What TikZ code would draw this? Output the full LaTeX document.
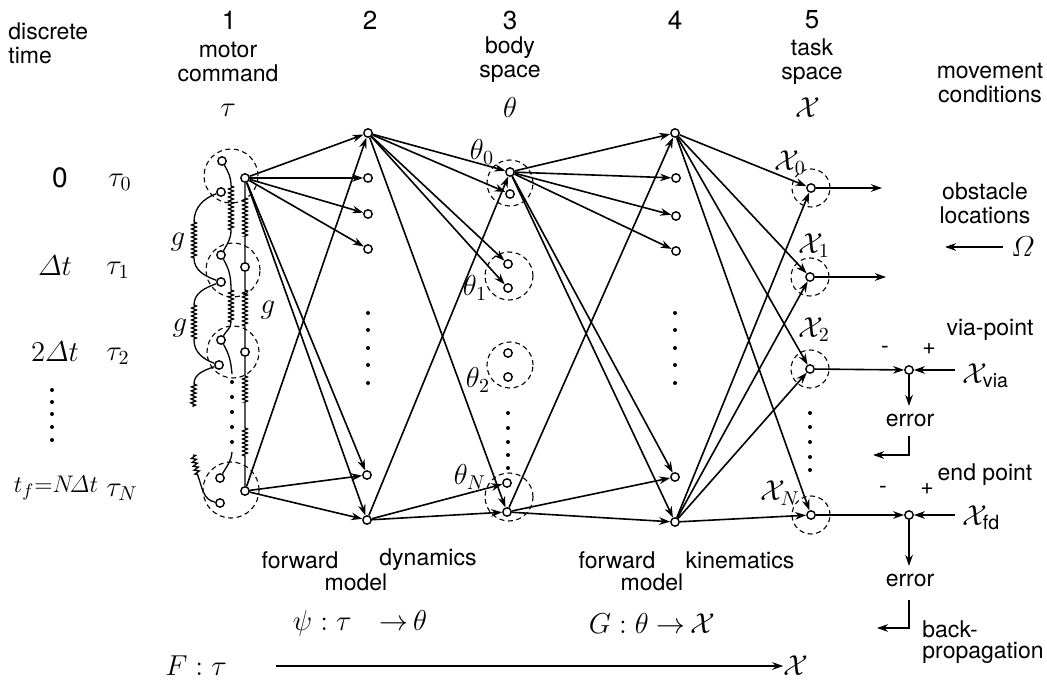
\documentclass[tikz,border=0pt]{standalone}
\usepackage{amsmath}
\usepackage{fontspec}
\setmainfont{TeX Gyre Heros}
\usetikzlibrary{arrows.meta,decorations.pathmorphing}
\pgfdeclarelayer{bg}
\pgfsetlayers{bg,main}
\begin{document}
\begin{tikzpicture}[x=0.5pt,y=-0.5pt,
  nd/.style={circle,draw,fill=white,inner sep=0pt,minimum size=4.2pt,line width=0.7pt},
  arr/.style={-{Stealth[length=5.5pt,width=3.8pt]},line width=0.8pt},
  wire/.style={line width=0.65pt},
  grp/.style={draw,dash pattern=on 2.5pt off 1.8pt,line width=0.55pt},
  spring/.style={decorate,decoration={zigzag,segment length=2pt,amplitude=1.2pt}},
  dot/.style={fill,radius=1pt},
  txt/.style={font=\fontsize{11.5}{12}\selectfont,align=center,inner sep=0pt},
  num/.style={font=\fontsize{13}{14}\selectfont,inner sep=0pt},
  mth/.style={font=\fontsize{14}{15}\selectfont,inner sep=0pt}]
\useasboundingbox (0,0) rectangle (1047,683);

% ---------- headers ----------
\node[txt,align=left,anchor=north west] (dt) at (8,22) {discrete\\time};
\node[num] (h1) at (229,20) {1};
\node[num] (h2) at (370,20) {2};
\node[num] (h3) at (510,20) {3};
\node[num] (h4) at (675,20) {4};
\node[num] (h5) at (812,20) {5};
\node[txt] (mc) at (228,62) {motor\\command};
\node[txt] (bs) at (510,60) {body\\space};
\node[txt] (ts) at (812,62) {task\\space};
\node[txt] (mvc) at (990,83) {movement\\conditions};
\node[mth] (tau) at (228,110) {$\tau$};
\node[mth] (th) at (510,108) {$\theta$};
\node[mth] (chi) at (808,108) {$\mathcal{X}$};

% ---------- time labels ----------
\node[mth] (l0) at (60,178) {0};
\node[mth] (l1) at (55,266) {$\varDelta t$};
\node[mth] (l2) at (55,352) {$2\varDelta t$};
\node[mth,font=\fontsize{12.5}{13}\selectfont] (lN) at (56,488) {$t_f{=}N\!\varDelta t$};
\foreach \y in {390,402,414,427,440} \fill (52,\y) circle[dot];
\node[mth] (ta0) at (120,182) {$\tau_0$};
\node[mth] (ta1) at (118,270) {$\tau_1$};
\node[mth] (ta2) at (118,356) {$\tau_2$};
\node[mth] (taN) at (122,492) {$\tau_N$};
\node[mth] (g1) at (178,242) {$g$};
\node[mth] (g2) at (180,328) {$g$};
\node[mth] (g3) at (268,310) {$g$};

% ---------- column 1 ----------
\node[nd] (a0) at (222,161) {}; \node[nd] (b0) at (221,192) {}; \node[nd] (c0) at (245,178) {};
\node[nd] (a1) at (221,255) {}; \node[nd] (b1) at (221,282) {}; \node[nd] (c1) at (245,267) {};
\node[nd] (a2) at (221,340) {}; \node[nd] (b2) at (219,365) {}; \node[nd] (c2) at (245,352) {};
\node[nd] (aN) at (220,478) {}; \node[nd] (bN) at (220,503) {}; \node[nd] (cN) at (245,491) {};
\foreach \y in {382,397,412,427,442} \fill (232,\y) circle[dot];
\draw[grp] (231,176) circle[radius=13.5pt];
\draw[grp] (233,270) circle[radius=13.5pt];
\draw[grp] (233,352) circle[radius=13pt];
\draw[grp] (231,490) circle[radius=14pt];

% ---------- column 2 ----------
\node[nd] (p0) at (368,133) {};
\node[nd] (p1) at (368,178) {};
\node[nd] (p2) at (368,214) {};
\node[nd] (p3) at (368,249) {};
\node[nd] (p4) at (367,475) {};
\node[nd] (p5) at (367,520) {};
\foreach \y in {313,330,348,365,383} \fill (368,\y) circle[dot];

% ---------- column 3 ----------
\node[nd] (t0) at (510,172) {}; \node[nd] (t0b) at (510,194) {};
\node[nd] (t1a) at (508,264) {}; \node[nd] (t1b) at (508,288) {};
\node[nd] (t2a) at (508,353) {}; \node[nd] (t2b) at (508,377) {};
\node[nd] (tNa) at (507,483) {}; \node[nd] (tNb) at (507,512) {};
\foreach \y in {413,428,442,455,468} \fill (508,\y) circle[dot];
\draw[grp] (510,183) circle[radius=11.5pt];
\draw[grp] (509,276) circle[radius=12pt];
\draw[grp] (510,365) circle[radius=11.5pt];
\draw[grp] (509,497) circle[radius=12pt];
\node[mth] (lt0) at (482,152) {$\theta_0$};
\node[mth] (lt1) at (475,288) {$\theta_1$};
\node[mth] (lt2) at (478,380) {$\theta_2$};
\node[mth] (ltN) at (470,477) {$\theta_N$};

% ---------- column 4 ----------
\node[nd] (q0) at (675,133) {};
\node[nd] (q1) at (676,178) {};
\node[nd] (q2) at (676,216) {};
\node[nd] (q3) at (676,251) {};
\node[nd] (q4) at (675,477) {};
\node[nd] (q5) at (675,522) {};
\foreach \y in {313,330,348,365,383} \fill (675,\y) circle[dot];

% ---------- column 5 ----------
\node[nd] (x0) at (811,188) {};
\node[nd] (x1) at (810,277) {};
\node[nd] (x2) at (810,369) {};
\node[nd] (xN) at (811,515) {};
\foreach \y in {413,427,442,457,470} \fill (810,\y) circle[dot];
\foreach \p in {(811,188),(810,277),(810,369),(811,515)} \draw[grp] \p circle[radius=9.5pt];
\node[mth] (lx0) at (790,163) {$\mathcal{X}_0$};
\node[mth] (lx1) at (814,246) {$\mathcal{X}_1$};
\node[mth] (lx2) at (814,330) {$\mathcal{X}_2$};
\node[mth] (lxN) at (780,493) {$\mathcal{X}_N$};

% ---------- movement conditions ----------
\node[nd] (ev) at (909,370) {};
\node[nd] (ef) at (909,515) {};
\coordinate (o0) at (882,188);
\coordinate (o1) at (886,277);
\node[txt] (obs) at (985,203) {obstacle\\locations};
\node[mth] (Om) at (1023,247) {$\varOmega$};
\coordinate (om1) at (1003,247);
\coordinate (om2) at (945,247);
\node[txt] (vp) at (990,330) {via-point};
\node[txt] (ep) at (985,475) {end point};
\node[txt] (mv) at (885,350) {-};
\node[txt] (pv) at (929,349) {+};
\node[txt] (mf) at (883,490) {-};
\node[txt] (pf) at (927,489) {+};
\node[mth,anchor=west] (xvia) at (962,376) {$\mathcal{X}_{\mathrm{via}}$};
\node[mth,anchor=west] (xfd) at (962,518) {$\mathcal{X}_{\mathrm{fd}}$};
\coordinate (vin) at (955,370);
\coordinate (fin) at (955,515);
\coordinate (ve) at (909,406);
\coordinate (fe) at (909,566);
\node[txt] (er1) at (910,420) {error};
\node[txt] (er2) at (910,580) {error};
\coordinate (h1a) at (909,436); \coordinate (h1b) at (909,455); \coordinate (h1c) at (873,455);
\coordinate (h2a) at (909,600); \coordinate (h2b) at (909,628); \coordinate (h2c) at (877,628);
\node[txt,align=left,anchor=west] (bp1) at (922,629) {back-};
\node[txt,align=left,anchor=west] (bp2) at (922,653) {propagation};

% ---------- bottom labels ----------
\node[txt] (fw1) at (300,560) {forward};
\node[txt] (md1) at (356,582) {model};
\node[txt] (dy) at (428,560) {dynamics};
\node[txt] (fw2) at (617,560) {forward};
\node[txt] (md2) at (652,582) {model};
\node[txt] (kin) at (740,560) {kinematics};
\node[mth] (psi) at (360,623) {$\psi:\tau\quad{\rightarrow}\,\theta$};
\node[mth] (Gm) at (652,623) {$G:\theta\;{\rightarrow}\,\mathcal{X}$};
\node[mth] (Ft) at (196,666) {$F:\tau$};
\node[mth] (Fx) at (796,666) {$\mathcal{X}$};
\coordinate (F1) at (276,666);

% ---------- connectors ----------
\begin{pgfonlayer}{bg}
\fill[white] (0,0) rectangle (1047,683);
% springs of column 1
\draw[wire] (a0) to[out=-60,in=90] (231,186) decorate[spring]{-- (231,230)} to[out=-90,in=60] (a1);
\draw[wire] (a1) to[out=-60,in=90] (231,290) decorate[spring]{-- (231,322)} to[out=-90,in=60] (a2);
\draw[wire] (a2) to[out=-60,in=95] (232,374);
\draw[wire] (232,452) to[out=-95,in=60] (aN);
\draw[wire] (b0) to[out=200,in=90] (194,222) decorate[spring]{-- (194,258)} to[out=-90,in=160] (b1);
\draw[wire] (b1) to[out=200,in=90] (194,305) decorate[spring]{-- (194,340)} to[out=-90,in=160] (b2);
\draw[wire] (b2) to[out=200,in=90] (194,384) decorate[spring]{-- (193,407)};
\draw[wire] (193,455) decorate[spring]{-- (198,476)} to[out=-70,in=170] (bN);
\draw[wire] (c0) -- (245,198) decorate[spring]{-- (245,236)} -- (c1) -- (245,290) decorate[spring]{-- (245,326)} -- (c2) -- (245,376) decorate[spring]{-- (245,402)} -- (245,428) decorate[spring]{-- (245,457)} -- (cN);
% layer 1 -> 2
\foreach \t in {p0,p1,p2,p3,p4,p5} \draw[arr] (c0) -- (\t);
\foreach \t in {p0,p4,p5} \draw[arr] (cN) -- (\t);
% layer 2 -> 3
\foreach \t in {t0,t0b,t1a,t1b,tNb} \draw[arr] (p0) -- (\t);
\foreach \t in {t0,tNa,tNb} \draw[arr] (p5) -- (\t);
% layer 3 -> 4
\foreach \t in {q0,q1,q2,q3,q4,q5} \draw[arr] (t0) -- (\t);
\foreach \t in {q0,q4,q5} \draw[arr] (tNb) -- (\t);
% layer 4 -> 5
\foreach \t in {x0,x1,x2,xN} \draw[arr] (q0) -- (\t);
\foreach \t in {x0,x1,x2,xN} \draw[arr] (q5) -- (\t);
% outputs
\draw[arr] (x0) -- (o0);
\draw[arr] (x1) -- (o1);
\draw[arr] (x2) -- (ev);
\draw[arr] (xN) -- (ef);
\draw[arr] (vin) -- (ev);
\draw[arr] (fin) -- (ef);
\draw[arr] (ev) -- (ve);
\draw[arr] (ef) -- (fe);
\draw[arr] (h1a) -- (h1b) -- (h1c);
\draw[arr] (h2a) -- (h2b) -- (h2c);
\draw[arr] (om1) -- (om2);
\draw[arr] (F1) -- (Fx);
\end{pgfonlayer}
\end{tikzpicture}
\end{document}
